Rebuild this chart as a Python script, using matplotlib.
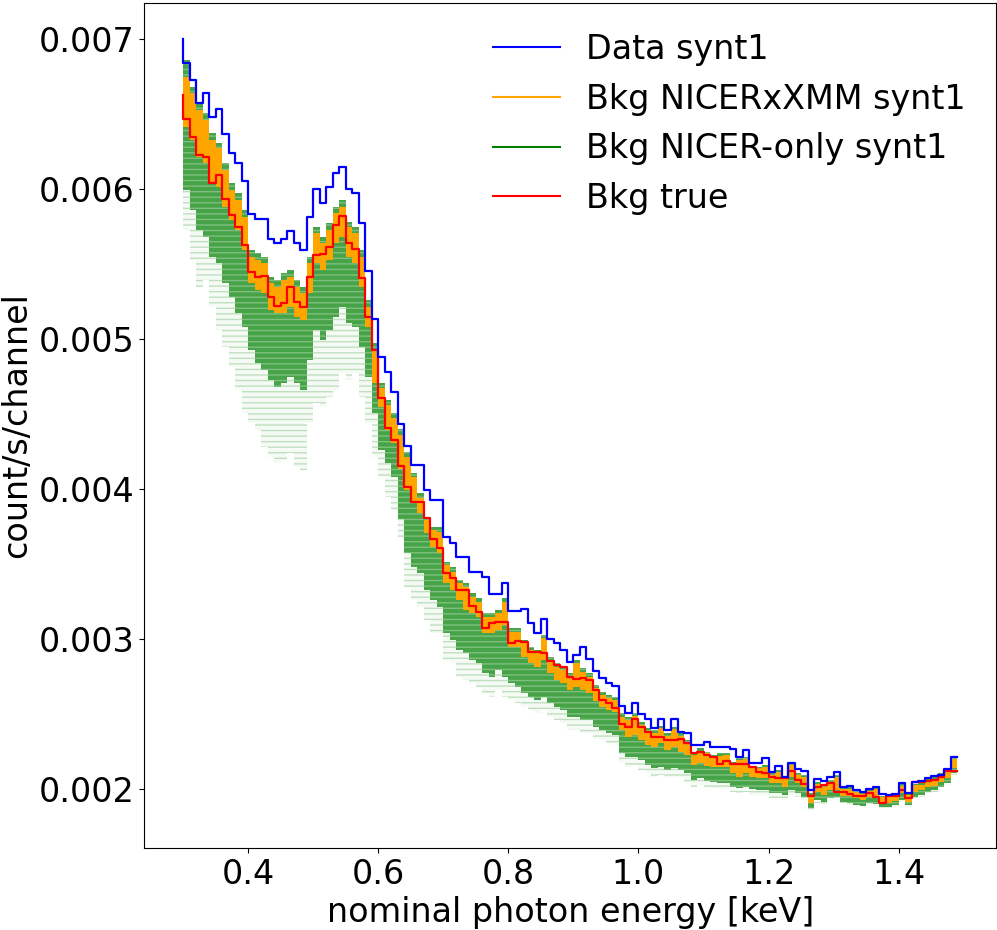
import numpy as np
import matplotlib.pyplot as plt
from matplotlib.lines import Line2D

# channel energies [keV] (left edge of first channel .. right edge of last)
energy = np.linspace(0.30, 1.49, 120)

# spectra, in units of 1e-3 count/s/channel
# step('pre') values: first entry is the value at 0.30 keV
data_synt1 = [
    7.00, 6.834, 6.723, 6.572, 6.639, 6.479, 6.532, 6.364, 6.235, 6.168, 6.053,
    5.828, 5.795, 5.795, 5.662, 5.635, 5.666, 5.717, 5.635, 5.591, 5.813,
    5.995, 5.902, 6.013, 6.106, 6.146, 5.995, 5.968, 5.773, 5.453, 5.129,
    4.880, 4.780, 4.644, 4.434, 4.287, 4.159, 4.159, 3.992, 3.925, 3.925,
    3.681, 3.641, 3.548, 3.548, 3.448, 3.448, 3.410, 3.299, 3.299, 3.375,
    3.188, 3.188, 3.197, 3.108, 3.037, 3.133, 3.002, 2.970, 2.926, 2.844,
    2.893, 2.948, 2.866, 2.787, 2.740, 2.704, 2.686, 2.553, 2.509, 2.571,
    2.500, 2.464, 2.409, 2.469, 2.393, 2.469, 2.382, 2.371, 2.291, 2.291,
    2.315, 2.282, 2.282, 2.282, 2.269, 2.215, 2.260, 2.171, 2.171, 2.204,
    2.115, 2.153, 2.082, 2.176, 2.132, 2.120, 1.993, 2.069, 2.056, 2.082,
    2.115, 2.016, 2.022, 1.993, 1.978, 2.000, 2.011, 1.964, 1.960, 1.967,
    2.038, 1.975, 2.050, 2.055, 2.075, 2.085, 2.095, 2.135, 2.215,
]
bkg_true = [
    6.624, 6.461, 6.341, 6.224, 6.208, 6.039, 6.091, 5.933, 5.824, 5.742, 5.624,
    5.447, 5.413, 5.418, 5.280, 5.218, 5.236, 5.342, 5.247, 5.209, 5.409,
    5.558, 5.564, 5.613, 5.757, 5.817, 5.635, 5.595, 5.402, 5.147, 4.925,
    4.603, 4.403, 4.328, 4.150, 4.014, 3.910, 3.910, 3.803, 3.663, 3.603,
    3.441, 3.403, 3.326, 3.326, 3.219, 3.181, 3.070, 3.104, 3.113, 3.113,
    2.970, 2.988, 2.982, 2.915, 2.915, 2.904, 2.855, 2.826, 2.815, 2.748,
    2.731, 2.737, 2.726, 2.660, 2.593, 2.575, 2.537, 2.433, 2.415, 2.464,
    2.415, 2.382, 2.349, 2.349, 2.326, 2.326, 2.331, 2.309, 2.238, 2.249,
    2.227, 2.215, 2.167, 2.189, 2.167, 2.167, 2.167, 2.144, 2.115, 2.104,
    2.078, 2.071, 2.071, 2.122, 2.062, 2.033, 1.953, 2.016, 2.027, 2.038,
    1.978, 1.978, 1.964, 1.953, 1.953, 1.971, 1.944, 1.905, 1.953, 1.953,
    1.993, 1.942, 2.044, 2.044, 2.056, 2.060, 2.078, 2.120, 2.120,
]

# posterior spread per channel (one value per channel bin, 119 bins)
nicerxmm_hi = [
    6.746, 6.635, 6.524, 6.457, 6.324, 6.268, 6.124, 5.991, 5.924, 5.813,
    5.546, 5.524, 5.502, 5.369, 5.347, 5.391, 5.413, 5.347, 5.302, 5.502,
    5.702, 5.635, 5.724, 5.835, 5.880, 5.746, 5.702, 5.546, 5.213, 4.925,
    4.669, 4.558, 4.469, 4.360, 4.214, 4.081, 3.936, 3.792, 3.725, 3.714,
    3.492, 3.448, 3.370, 3.348, 3.281, 3.248, 3.148, 3.148, 3.170, 3.248,
    3.048, 3.048, 2.970, 2.926, 2.904, 3.004, 2.859, 2.815, 2.793, 2.748,
    2.837, 2.782, 2.748, 2.670, 2.626, 2.604, 2.593, 2.482, 2.460, 2.486,
    2.426, 2.389, 2.371, 2.404, 2.353, 2.398, 2.353, 2.309, 2.227, 2.255,
    2.238, 2.215, 2.220, 2.227, 2.171, 2.193, 2.198, 2.144, 2.138, 2.149,
    2.093, 2.113, 2.071, 2.160, 2.091, 2.078, 1.960, 2.033, 2.011, 2.047,
    2.078, 1.998, 2.002, 1.982, 1.967, 1.987, 1.998, 1.944, 1.944, 1.960,
    2.020, 1.958, 2.024, 2.027, 2.056, 2.069, 2.093, 2.115, 2.198,
]
nicerxmm_lo = [
    6.412, 6.324, 6.213, 6.168, 6.035, 6.013, 5.880, 5.791, 5.724, 5.591,
    5.369, 5.324, 5.302, 5.191, 5.169, 5.169, 5.213, 5.147, 5.124, 5.302,
    5.502, 5.458, 5.524, 5.635, 5.680, 5.546, 5.502, 5.346, 5.080, 4.703,
    4.547, 4.392, 4.303, 4.130, 3.992, 3.903, 3.837, 3.703, 3.614, 3.570,
    3.370, 3.326, 3.259, 3.193, 3.170, 3.148, 3.037, 3.037, 3.059, 3.093,
    2.948, 2.948, 2.882, 2.837, 2.815, 2.859, 2.771, 2.726, 2.704, 2.660,
    2.682, 2.660, 2.637, 2.585, 2.549, 2.526, 2.515, 2.393, 2.349, 2.360,
    2.326, 2.293, 2.282, 2.304, 2.260, 2.282, 2.249, 2.227, 2.160, 2.171,
    2.153, 2.149, 2.149, 2.149, 2.104, 2.082, 2.104, 2.078, 2.071, 2.071,
    2.038, 2.042, 2.016, 2.082, 2.038, 2.016, 1.905, 1.982, 1.960, 1.993,
    1.993, 1.953, 1.953, 1.938, 1.927, 1.944, 1.938, 1.905, 1.905, 1.922,
    1.971, 1.916, 1.982, 1.993, 2.011, 2.020, 2.049, 2.071, 2.138,
]
nicer_hi = [
    6.857, 6.679, 6.568, 6.501, 6.368, 6.301, 6.168, 6.035, 5.968, 5.857,
    5.591, 5.569, 5.546, 5.413, 5.391, 5.435, 5.458, 5.391, 5.347, 5.546,
    5.746, 5.680, 5.768, 5.880, 5.924, 5.780, 5.746, 5.591, 5.258, 4.969,
    4.703, 4.592, 4.503, 4.400, 4.247, 4.103, 3.970, 3.814, 3.748, 3.748,
    3.515, 3.481, 3.392, 3.370, 3.304, 3.270, 3.170, 3.170, 3.193, 3.270,
    3.070, 3.070, 2.993, 2.948, 2.926, 3.026, 2.882, 2.837, 2.815, 2.771,
    2.859, 2.804, 2.771, 2.690, 2.648, 2.626, 2.615, 2.504, 2.482, 2.504,
    2.449, 2.404, 2.393, 2.420, 2.371, 2.415, 2.371, 2.326, 2.238, 2.271,
    2.249, 2.227, 2.238, 2.242, 2.182, 2.204, 2.215, 2.153, 2.149, 2.160,
    2.104, 2.127, 2.082, 2.171, 2.104, 2.093, 1.971, 2.049, 2.027, 2.060,
    2.093, 2.009, 2.016, 1.993, 1.978, 1.998, 2.011, 1.953, 1.953, 1.971,
    2.033, 1.967, 2.033, 2.038, 2.064, 2.078, 2.104, 2.127, 2.205,
]
nicer_lo = [
    5.991, 5.857, 5.724, 5.680, 5.546, 5.502, 5.369, 5.280, 5.169, 5.080,
    4.925, 4.836, 4.791, 4.725, 4.680, 4.703, 4.747, 4.703, 4.658, 4.858,
    5.058, 4.991, 5.058, 5.147, 5.213, 5.102, 5.080, 4.947, 4.747, 4.503,
    4.258, 4.170, 4.081, 3.800, 3.570, 3.481, 3.437, 3.326, 3.259, 3.215,
    3.037, 2.993, 2.926, 2.904, 2.859, 2.837, 2.771, 2.748, 2.793, 2.748,
    2.704, 2.682, 2.637, 2.615, 2.593, 2.615, 2.571, 2.549, 2.526, 2.482,
    2.482, 2.460, 2.460, 2.415, 2.393, 2.371, 2.360, 2.238, 2.215, 2.215,
    2.193, 2.160, 2.138, 2.149, 2.127, 2.138, 2.127, 2.104, 2.060, 2.071,
    2.056, 2.049, 2.042, 2.042, 2.016, 2.004, 2.016, 1.998, 1.993, 1.993,
    1.971, 1.971, 1.960, 1.993, 1.971, 1.949, 1.871, 1.927, 1.916, 1.938,
    1.949, 1.916, 1.905, 1.893, 1.887, 1.905, 1.900, 1.882, 1.882, 1.893,
    1.927, 1.893, 1.949, 1.960, 1.982, 1.993, 2.016, 2.038, 2.104,
]
nicer_min = [
    5.724, 5.524, 5.346, 5.391, 5.213, 5.058, 4.947, 4.814, 4.658, 4.503,
    4.436, 4.392, 4.281, 4.214, 4.170, 4.192, 4.236, 4.147, 4.125, 4.436,
    4.569, 4.547, 4.614, 4.658, 4.770, 4.725, 4.770, 4.614, 4.436, 4.214,
    4.081, 3.948, 3.859, 3.670, 3.348, 3.259, 3.215, 3.126, 3.037, 3.037,
    2.859, 2.837, 2.748, 2.726, 2.704, 2.682, 2.637, 2.615, 2.660, 2.615,
    2.593, 2.571, 2.549, 2.526, 2.504, 2.526, 2.482, 2.460, 2.437, 2.393,
    2.393, 2.371, 2.371, 2.335, 2.326, 2.304, 2.293, 2.171, 2.149, 2.160,
    2.127, 2.104, 2.082, 2.093, 2.071, 2.082, 2.071, 2.049, 2.016, 2.027,
    2.016, 2.004, 1.998, 1.998, 1.982, 1.971, 1.982, 1.960, 1.960, 1.960,
    1.938, 1.938, 1.927, 1.960, 1.944, 1.927, 1.860, 1.909, 1.900, 1.922,
    1.927, 1.905, 1.893, 1.882, 1.878, 1.893, 1.887, 1.871, 1.871, 1.882,
    1.916, 1.882, 1.938, 1.949, 1.971, 1.982, 2.004, 2.027, 2.093,
]

scale = 1e-3
fs = 24

fig = plt.figure(figsize=(9.97, 9.3), dpi=100)
ax = fig.add_axes([144.3 / 997, 82 / 930, (996 - 144.3) / 997, 845 / 930])

# NICER-only: faint outliers + dense core
ax.stairs(np.array(nicer_lo) * scale, energy, baseline=np.array(nicer_min) * scale,
          fill=True, facecolor=(0, 0.5, 0, 0.04), edgecolor=(0, 0.5, 0, 0.22),
          hatch='---', linewidth=0)
ax.stairs(np.array(nicer_hi) * scale, energy, baseline=np.array(nicer_lo) * scale,
          fill=True, facecolor=(0.0, 0.5, 0.0, 0.72), edgecolor=(1, 1, 1, 0.3),
          hatch='---', linewidth=0)
# NICERxXMM
ax.stairs(np.array(nicerxmm_hi) * scale, energy, baseline=np.array(nicerxmm_lo) * scale,
          fill=True, facecolor='orange', linewidth=0)

ax.step(energy, np.array(bkg_true) * scale, where='pre', color='red', lw=1.6)
ax.step(energy, np.array(data_synt1) * scale, where='pre', color='blue', lw=1.6)

ax.set_xlim(0.2405, 1.5495)
ax.set_ylim(0.001607, 0.007237)
ax.set_xlabel('nominal photon energy [keV]', fontsize=fs)
ax.set_ylabel('count/s/channel', fontsize=fs)
ax.tick_params(labelsize=fs)

handles = [
    Line2D([], [], color='blue', lw=1.5, label='Data synt1'),
    Line2D([], [], color='orange', lw=1.5, label='Bkg NICERxXMM synt1'),
    Line2D([], [], color='green', lw=1.5, label='Bkg NICER-only synt1'),
    Line2D([], [], color='red', lw=1.5, label='Bkg true'),
]
ax.legend(handles=handles, loc='upper right', frameon=False, fontsize=fs)

fig.savefig('out.png', dpi=100)
